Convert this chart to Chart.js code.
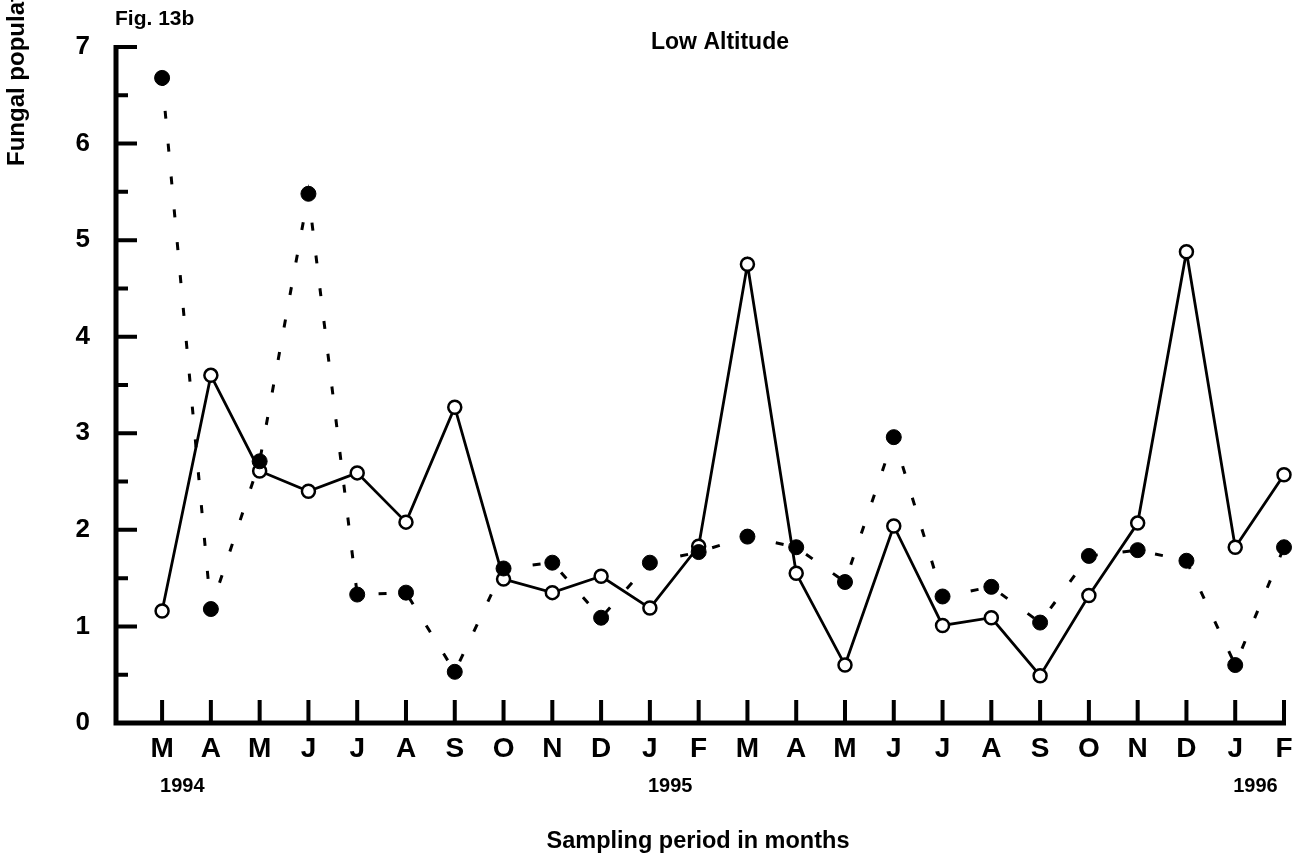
<!DOCTYPE html>
<html lang="en">
<head>
  <meta charset="UTF-8">
  <title>Fig. 13b Low Altitude</title>
  <script src="https://cdn.jsdelivr.net/npm/chart.js"></script>
  <style>
    body { margin: 0; background: #fff; }
  </style>
</head>
<body>
  <canvas id="fig" width="1307" height="858"></canvas>

  <script>
    // sampling months, Mar 1994 .. Feb 1996
    const months = ["M","A","M","J","J","A","S","O","N","D","J","F","M","A","M","J","J","A","S","O","N","D","J","F"];
    const yearLabels = [[0, "1994"], [10, "1995"], [22, "1996"]];
    const yTicks = [0, 1, 2, 3, 4, 5, 6, 7];

    // filled dots, dotted line
    const filledSeries = [6.68, 1.18, 2.71, 5.48, 1.33, 1.35, 0.53, 1.60, 1.66, 1.09, 1.66, 1.77,
                          1.93, 1.82, 1.46, 2.96, 1.31, 1.41, 1.04, 1.73, 1.79, 1.68, 0.60, 1.82];
    // open circles, solid line
    const openSeries = [1.16, 3.60, 2.61, 2.40, 2.59, 2.08, 3.27, 1.49, 1.35, 1.52, 1.19, 1.83,
                        4.75, 1.55, 0.60, 2.04, 1.01, 1.09, 0.49, 1.32, 2.07, 4.88, 1.82, 2.57];

    const FONT = "'Liberation Sans', Arial, sans-serif";

    // axes drawn by hand so the ticks can point inward
    const frame = {
      id: "frame",
      beforeDatasetsDraw(chart) {
        const ctx = chart.ctx;
        const xs = chart.scales.x, ys = chart.scales.y;
        const left = xs.getPixelForValue(xs.min);
        const right = xs.getPixelForValue(months.length - 1);
        const y0 = ys.getPixelForValue(0);
        const yTop = ys.getPixelForValue(7);
        ctx.save();
        ctx.strokeStyle = "#000";
        ctx.lineCap = "butt";

        ctx.lineWidth = 5;
        ctx.beginPath();
        ctx.moveTo(left, yTop - 2);
        ctx.lineTo(left, y0 + 2.5);
        ctx.moveTo(left - 2.5, y0);
        ctx.lineTo(right + 2, y0);
        ctx.stroke();

        ctx.lineWidth = 4;
        ctx.beginPath();
        for (let v = 0.5; v <= 7; v += 0.5) {
          const py = ys.getPixelForValue(v);
          const len = Number.isInteger(v) ? 21 : 12;
          ctx.moveTo(left, py);
          ctx.lineTo(left + len, py);
        }
        months.forEach((m, i) => {
          const px = xs.getPixelForValue(i);
          ctx.moveTo(px, y0);
          ctx.lineTo(px, y0 - 23);
        });
        ctx.stroke();
        ctx.restore();
      },
      afterDraw(chart) {
        const ctx = chart.ctx;
        const xs = chart.scales.x;
        ctx.save();
        ctx.fillStyle = "#000";

        ctx.font = "bold 21px " + FONT;
        ctx.textAlign = "left";
        ctx.textBaseline = "middle";
        ctx.fillText("Fig. 13b", 115, 19);

        ctx.font = "bold 23px " + FONT;
        ctx.textAlign = "center";
        ctx.fillText("Low Altitude", 720, 43);

        ctx.font = "bold 20px " + FONT;
        ctx.textAlign = "left";
        yearLabels.forEach(([i, t]) => {
          ctx.fillText(t, xs.getPixelForValue(i) - 2, 786);
        });

        ctx.font = "bold 23.5px " + FONT;
        ctx.textAlign = "center";
        ctx.fillText("Sampling period in months", 698, 842);

        ctx.translate(17, 166);
        ctx.rotate(-Math.PI / 2);
        ctx.textAlign = "left";
        ctx.font = "bold 24px " + FONT;
        ctx.fillText("Fungal population", 0, 0);
        ctx.restore();
      }
    };

    new Chart(document.getElementById("fig"), {
      type: "line",
      data: {
        datasets: [{
          label: "filled",
          data: filledSeries.map((v, i) => ({ x: i, y: v })),
          borderColor: "#000",
          borderWidth: 3,
          borderDash: [8, 25],
          pointRadius: 7.5,
          pointBackgroundColor: "#000",
          pointBorderColor: "#000",
          pointBorderWidth: 1,
          tension: 0,
          clip: false
        }, {
          label: "open",
          data: openSeries.map((v, i) => ({ x: i, y: v })),
          borderColor: "#000",
          borderWidth: 2.8,
          pointRadius: 6.5,
          pointBackgroundColor: "#fff",
          pointBorderColor: "#000",
          pointBorderWidth: 2.5,
          tension: 0,
          clip: false
        }]
      },
      options: {
        responsive: false,
        animation: false,
        layout: { padding: { left: 0, right: 23, top: 47, bottom: 0 } },
        plugins: { legend: { display: false }, tooltip: { enabled: false } },
        scales: {
          x: {
            type: "linear",
            min: -0.945,
            max: 23,
            afterBuildTicks: s => { s.ticks = months.map((m, i) => ({ value: i })); },
            afterFit: s => { s.height = 135; },
            grid: { display: false, drawTicks: false },
            border: { display: false },
            ticks: {
              autoSkip: false,
              maxRotation: 0,
              padding: 9,
              color: "#000",
              font: { family: FONT, size: 28, weight: "bold" },
              callback: v => months[v]
            }
          },
          y: {
            min: 0,
            max: 7,
            afterBuildTicks: s => { s.ticks = yTicks.map(v => ({ value: v })); },
            afterFit: s => { s.width = 116; },
            grid: { display: false, drawTicks: false },
            border: { display: false },
            ticks: {
              padding: 26,
              color: "#000",
              font: { family: FONT, size: 26, weight: "bold" }
            }
          }
        }
      },
      plugins: [frame]
    });
  </script>
</body>
</html>
